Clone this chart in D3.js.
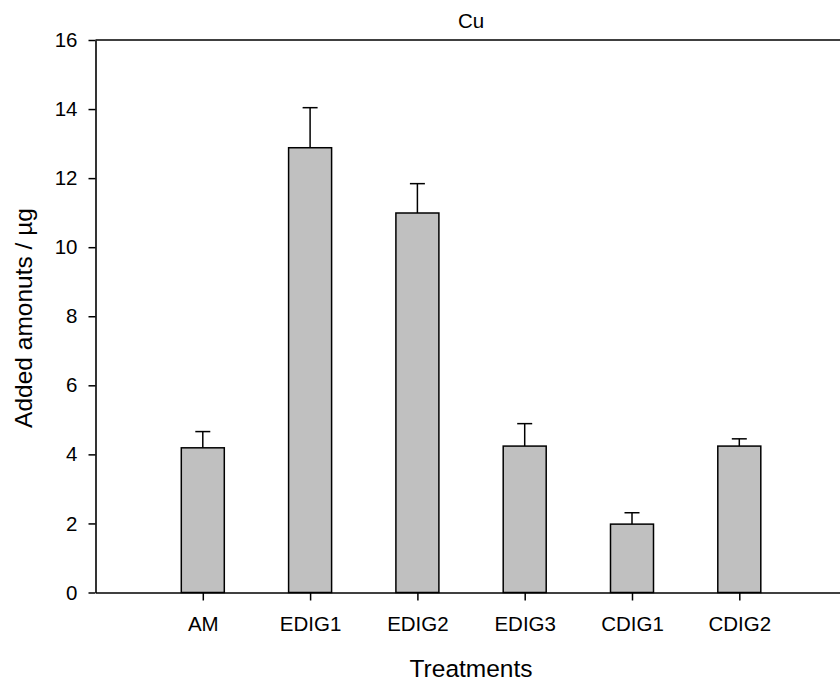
<!DOCTYPE html>
<html>
<head>
<meta charset="utf-8">
<script src="https://cdn.jsdelivr.net/npm/d3@7"></script>
<style>
  html, body { margin: 0; padding: 0; background: #fff; }
  svg { display: block; font-family: "Liberation Sans", Arial, sans-serif; }
</style>
</head>
<body>
<svg id="chart" width="840" height="683"></svg>
<script>
// Cu added amounts per treatment (mean and upper error)
const categories = ["AM", "EDIG1", "EDIG2", "EDIG3", "CDIG1", "CDIG2"];
const means = [4.19, 12.88, 10.99, 4.24, 1.98, 4.24];
const errors = [0.47, 1.16, 0.85, 0.65, 0.33, 0.21];
const yTicks = [0, 2, 4, 6, 8, 10, 12, 14, 16];
const chartTitle = "Cu";
const xTitle = "Treatments";
const yTitle = "Added amonuts / µg";

const svg = d3.select("#chart");
const plotLeft = 95.5, plotTop = 40, plotBottom = 592.5, step = 107.3;
const tickFont = 20.5, titleFont = 24.5;

const x = d3.scaleLinear().domain([0, categories.length + 1])
  .range([plotLeft, plotLeft + step * (categories.length + 1)]);
const y = d3.scaleLinear().domain([0, 16]).range([plotBottom, plotTop]);
const barW = 43;

// frame: top line
svg.append("line")
  .attr("x1", plotLeft).attr("x2", x(categories.length + 1))
  .attr("y1", plotTop).attr("y2", plotTop)
  .attr("stroke", "#000").attr("stroke-width", 1.6);

// bars with upper error bars
const g = svg.append("g");
categories.forEach((c, i) => {
  const cx = x(i + 1);
  const hi = means[i] + errors[i];
  g.append("line")
    .attr("x1", cx).attr("x2", cx)
    .attr("y1", y(means[i])).attr("y2", y(hi))
    .attr("stroke", "#000").attr("stroke-width", 1.5);
  g.append("line")
    .attr("x1", cx - 7.5).attr("x2", cx + 7.5)
    .attr("y1", y(hi)).attr("y2", y(hi))
    .attr("stroke", "#000").attr("stroke-width", 1.5);
  g.append("rect")
    .attr("x", cx - barW / 2).attr("width", barW)
    .attr("y", y(means[i])).attr("height", y(0) - y(means[i]))
    .attr("fill", "#c0c0c0").attr("stroke", "#000").attr("stroke-width", 1.5);
});

// y axis
const yAxis = svg.append("g")
  .attr("transform", `translate(${plotLeft},0)`)
  .call(d3.axisLeft(y).tickValues(yTicks).tickSize(7).tickPadding(11).tickSizeOuter(0));
yAxis.select(".domain").attr("stroke-width", 1.6);
yAxis.selectAll(".tick line").attr("stroke-width", 1.5);
yAxis.selectAll("text").attr("font-size", tickFont).attr("fill", "#000")
  .attr("font-family", "Liberation Sans, Arial, sans-serif");

// x axis
const xAxis = svg.append("g")
  .attr("transform", `translate(0,${plotBottom})`)
  .call(d3.axisBottom(x).tickValues(d3.range(1, categories.length + 1))
    .tickFormat(d => categories[d - 1]).tickSize(8).tickPadding(16).tickSizeOuter(0));
xAxis.select(".domain").attr("stroke-width", 1.6);
xAxis.selectAll(".tick line").attr("stroke-width", 1.5);
xAxis.selectAll("text").attr("font-size", tickFont).attr("fill", "#000")
  .attr("font-family", "Liberation Sans, Arial, sans-serif");

// titles
const midX = (x(0) + x(categories.length + 1)) / 2;
svg.append("text").attr("x", midX).attr("y", 28)
  .attr("text-anchor", "middle").attr("font-size", tickFont).text(chartTitle);
svg.append("text").attr("x", midX).attr("y", 677)
  .attr("text-anchor", "middle").attr("font-size", titleFont).text(xTitle);
svg.append("text")
  .attr("transform", `translate(32,318) rotate(-90)`)
  .attr("text-anchor", "middle").attr("font-size", titleFont).text(yTitle);
</script>
</body>
</html>
